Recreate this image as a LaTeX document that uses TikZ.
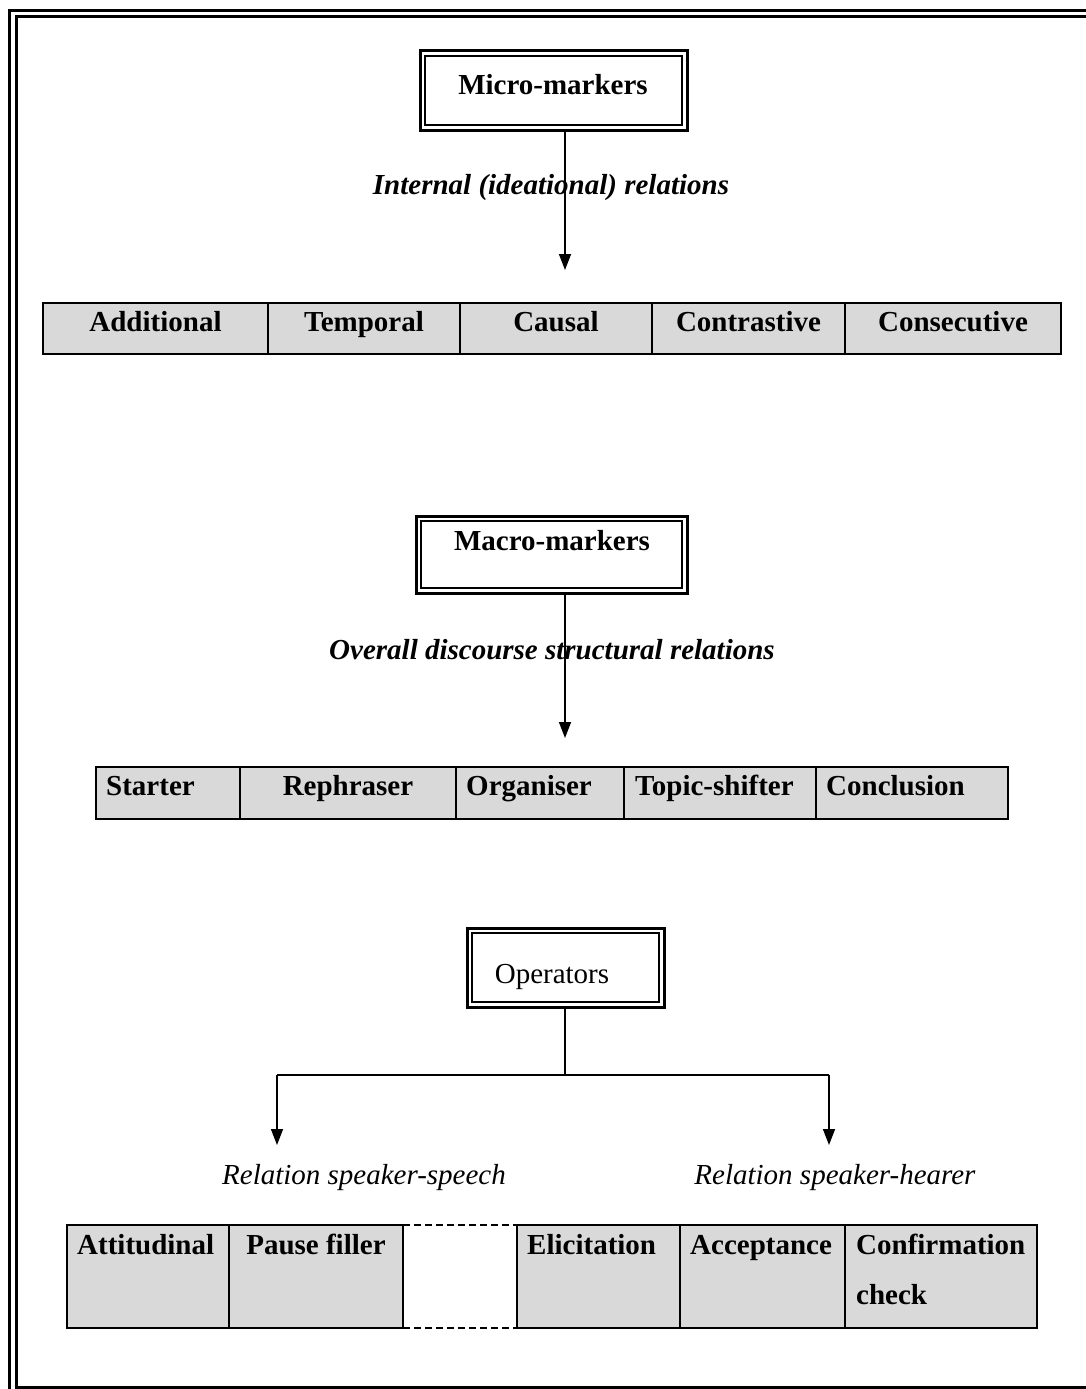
\documentclass[tikz,border=0pt]{standalone}
\usepackage{fontspec}
\setmainfont{Liberation Serif}
\usetikzlibrary{arrows.meta,calc}
\definecolor{cellgrey}{HTML}{D9D9D9}
\begin{document}
\begin{tikzpicture}[x=1pt,y=-1pt,
  every node/.style={font=\fontsize{29}{35}\selectfont, inner sep=0pt},
  cell/.style={draw, fill=cellgrey, line width=2.5pt, outer sep=0pt, anchor=north west},
  gapcell/.style={outer sep=0pt, anchor=north west},
  headbox/.style={draw, line width=3pt, outer sep=0pt, anchor=north west},
  innerline/.style={line width=2pt},
  arrowline/.style={line width=1.5pt, -{Triangle[width=12pt,length=16pt]}},
  plainline/.style={line width=1.5pt},
  frameline/.style={line width=3pt}
]
\useasboundingbox (0,0) rectangle (1086,1389);
\clip (0,0) rectangle (1086,1389);

% page frame (double rule)
\draw[frameline] (9,10.5) rectangle (1100,1400);
\draw[frameline] (16,17) rectangle (1093,1387);

% ---------- Micro-markers ----------
\node[headbox, minimum width=267pt, minimum height=79pt] (micro) at (420,51) {};
\draw[innerline] ($(micro.north west)+(5,5)$) rectangle ($(micro.south east)+(-5,-5)$);
\node[anchor=base] (microtxt) at (553,94) {\textbf{Micro-markers}};
\coordinate (tip1) at (565,270);
\draw[arrowline] (micro.south -| tip1) -- (tip1);
\node[anchor=base] (lab1) at (551,194) {\textbf{\textit{Internal (ideational) relations}}};

\node[cell, minimum width=225pt, minimum height=51pt] (a1) at (43,303) {};
\node[cell, minimum width=192pt, minimum height=51pt] (a2) at (268,303) {};
\node[cell, minimum width=192pt, minimum height=51pt] (a3) at (460,303) {};
\node[cell, minimum width=193pt, minimum height=51pt] (a4) at (652,303) {};
\node[cell, minimum width=216pt, minimum height=51pt] (a5) at (845,303) {};
\node[anchor=base] (ta1) at ($(a1.north)+(0,28)$) {\textbf{Additional}};
\node[anchor=base] (ta2) at ($(a2.north)+(0,28)$) {\textbf{Temporal}};
\node[anchor=base] (ta3) at ($(a3.north)+(0,28)$) {\textbf{Causal}};
\node[anchor=base] (ta4) at ($(a4.north)+(0,28)$) {\textbf{Contrastive}};
\node[anchor=base] (ta5) at ($(a5.north)+(0,28)$) {\textbf{Consecutive}};

% ---------- Macro-markers ----------
\node[headbox, minimum width=271pt, minimum height=77pt] (macro) at (416,516) {};
\draw[innerline] ($(macro.north west)+(5,5)$) rectangle ($(macro.south east)+(-5,-5)$);
\node[anchor=base] (macrotxt) at (552,550) {\textbf{Macro-markers}};
\coordinate (tip2) at (565,738);
\draw[arrowline] (macro.south -| tip2) -- (tip2);
\node[anchor=base] (lab2) at (552,659) {\textbf{\textit{Overall discourse structural relations}}};

\node[cell, minimum width=144pt, minimum height=52pt] (b1) at (96,767) {};
\node[cell, minimum width=216pt, minimum height=52pt] (b2) at (240,767) {};
\node[cell, minimum width=168pt, minimum height=52pt] (b3) at (456,767) {};
\node[cell, minimum width=192pt, minimum height=52pt] (b4) at (624,767) {};
\node[cell, minimum width=192pt, minimum height=52pt] (b5) at (816,767) {};
\node[anchor=base west] (tb1) at ($(b1.north west)+(10,28)$) {\textbf{Starter}};
\node[anchor=base] (tb2) at ($(b2.north)+(0,28)$) {\textbf{Rephraser}};
\node[anchor=base west] (tb3) at ($(b3.north west)+(10,28)$) {\textbf{Organiser}};
\node[anchor=base west] (tb4) at ($(b4.north west)+(11,28)$) {\textbf{Topic-shifter}};
\node[anchor=base west] (tb5) at ($(b5.north west)+(10,28)$) {\textbf{Conclusion}};

% ---------- Operators ----------
\node[headbox, minimum width=197pt, minimum height=79pt] (oper) at (467,928) {};
\draw[innerline] ($(oper.north west)+(5,5)$) rectangle ($(oper.south east)+(-5,-5)$);
\node[anchor=base] (opertxt) at (552,983) {Operators};
\coordinate (fork) at (565,1075);
\coordinate (tipl) at (277,1145);
\coordinate (tipr) at (829,1145);
\draw[plainline] (oper.south -| fork) -- (fork);
\draw[plainline] (fork -| tipl) -- (fork -| tipr);
\draw[arrowline] (fork -| tipl) -- (tipl);
\draw[arrowline] (fork -| tipr) -- (tipr);
\node[anchor=base] (labl) at (364,1184) {\textit{Relation speaker-speech}};
\node[anchor=base] (labr) at (835,1184) {\textit{Relation speaker-hearer}};

\node[gapcell, minimum width=114pt, minimum height=103pt] (c0) at (403,1225) {};
\draw[line width=2pt, dash pattern=on 7pt off 4pt] (c0.north west) -- (c0.north east);
\draw[line width=2pt, dash pattern=on 7pt off 4pt] (c0.south west) -- (c0.south east);
\node[cell, minimum width=162pt, minimum height=103pt] (c1) at (67,1225) {};
\node[cell, minimum width=174pt, minimum height=103pt] (c2) at (229,1225) {};
\node[cell, minimum width=163pt, minimum height=103pt] (c3) at (517,1225) {};
\node[cell, minimum width=165pt, minimum height=103pt] (c4) at (680,1225) {};
\node[cell, minimum width=192pt, minimum height=103pt] (c5) at (845,1225) {};
\node[anchor=base west] (tc1) at ($(c1.north west)+(10,29)$) {\textbf{Attitudinal}};
\node[anchor=base] (tc2) at ($(c2.north)+(0,29)$) {\textbf{Pause filler}};
\node[anchor=base west] (tc3) at ($(c3.north west)+(10,29)$) {\textbf{Elicitation}};
\node[anchor=base west] (tc4) at ($(c4.north west)+(10,29)$) {\textbf{Acceptance}};
\node[anchor=base west] (tc5) at ($(c5.north west)+(11,29)$) {\textbf{Confirmation}};
\node[anchor=base west] (tc5b) at ($(c5.north west)+(11,79)$) {\textbf{check}};
\end{tikzpicture}
\end{document}
